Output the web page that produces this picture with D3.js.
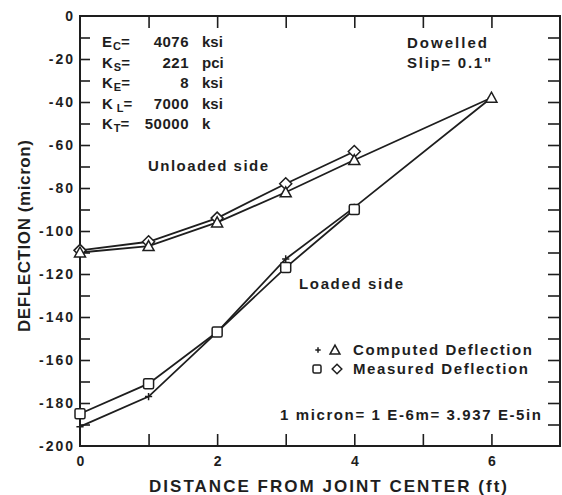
<!DOCTYPE html>
<meta charset="utf-8">
<style>
body{
  margin: 0;
  background-color: white;
}
text{
  font-family: "Liberation Sans", Arial, sans-serif;
  fill: #1e1e1e;
}
</style>
<body>
<svg class="chart"></svg>
<script src="https://d3js.org/d3.v7.min.js"></script>
<script>
// distance from joint centre (ft)
var distance = [0, 1, 2, 3, 4, 6];
var distanceMeasured = [0, 1, 2, 3, 4];

// deflections in micron
var unloadedComputed = [-110, -107, -96, -82, -67, -38];
var unloadedMeasured = [-109, -105, -94, -78, -63];
var loadedComputed = [-191, -177, -147, -113, -89, -38];
var loadedMeasured = [-185, -171, -147, -117, -90];

// parameter box
var paramName = ["E", "K", "K", "K", "K"];
var paramSub = ["C", "S", "E", "L", "T"];
var paramValue = ["4076", "221", "8", "7000", "50000"];
var paramUnit = ["ksi", "pci", "ksi", "ksi", "k"];

var xTicks = [0, 1, 2, 3, 4, 5, 6];
var yTicks = d3.range(-200, 1, 10);
</script>

<script>
var w = 562, h = 495;
var svg = d3.select('svg').attr('width', w).attr('height', h);

var x = d3.scaleLinear().domain([0, 7]).range([80, 560]);
var y = d3.scaleLinear().domain([-200, 0]).range([446, 16]);

var ink = '#1e1e1e';

// frame
svg.append('rect')
  .attr('x', x(0)).attr('y', y(0))
  .attr('width', x(7) - x(0)).attr('height', y(-200) - y(0))
  .attr('fill', 'none')
  .attr('stroke', ink)
  .attr('stroke-width', 2);

// axes -- ticks point inside the frame
var axBottom = svg.append('g')
  .attr('transform', 'translate(0,' + y(-200) + ')')
  .call(d3.axisBottom(x).tickValues(xTicks).tickSizeInner(-12).tickSizeOuter(0).tickPadding(10)
    .tickFormat(function (d) { return d % 2 == 0 ? d : ''; }));
var axTop = svg.append('g')
  .attr('transform', 'translate(0,' + y(0) + ')')
  .call(d3.axisTop(x).tickValues(xTicks).tickSizeInner(-12).tickSizeOuter(0).tickFormat(''));
var axLeft = svg.append('g')
  .attr('transform', 'translate(' + x(0) + ',0)')
  .call(d3.axisLeft(y).tickValues(yTicks).tickSizeInner(-10).tickSizeOuter(0).tickPadding(7)
    .tickFormat(function (d) { return d % 20 == 0 ? String(d) : ''; }));
var axRight = svg.append('g')
  .attr('transform', 'translate(' + x(7) + ',0)')
  .call(d3.axisRight(y).tickValues(yTicks).tickSizeInner(-12).tickSizeOuter(0).tickFormat(''));

svg.selectAll('.domain').remove();
svg.selectAll('.tick line').attr('stroke', ink).attr('stroke-width', 1.6);
svg.selectAll('.tick text')
  .attr('fill', ink)
  .attr('font-size', '14px')
  .attr('font-weight', 'bold')
  .attr('letter-spacing', '2px')
  .attr('font-family', '"Liberation Sans", Arial, sans-serif');

// no tick marks in the corners
axBottom.selectAll('.tick line').filter(function (d) { return d == 0; }).remove();
axTop.selectAll('.tick line').filter(function (d) { return d == 0; }).remove();
axLeft.selectAll('.tick line').filter(function (d) { return d == -200 || d == 0; }).remove();
axRight.selectAll('.tick line').filter(function (d) { return d == -200 || d == 0; }).remove();
axLeft.selectAll('.tick text').attr('dx', '2px');
axBottom.selectAll('.tick text').attr('dx', '1px');

// lines
var line = d3.line()
  .x(function (d) { return x(d[0]); })
  .y(function (d) { return y(d[1]); });

function pairs (xs, ys) {
  return xs.map(function (v, i) { return [v, ys[i]]; });
}

var series = [
  pairs(distance, unloadedComputed),
  pairs(distanceMeasured, unloadedMeasured),
  pairs(distance, loadedComputed),
  pairs(distanceMeasured, loadedMeasured)
];

svg.selectAll('path.series')
  .data(series)
  .enter()
  .append('path')
  .attr('class', 'series')
  .attr('d', line)
  .attr('fill', 'none')
  .attr('stroke', ink)
  .attr('stroke-width', 1.8);

// markers
function drawMarker (g, kind, cx, cy, s) {
  var m;
  if (kind == 'tri') {
    m = g.append('path')
      .attr('d', 'M' + cx + ',' + (cy - s * 0.55) + 'L' + (cx + s * 0.55) + ',' + (cy + s * 0.45) + 'L' + (cx - s * 0.55) + ',' + (cy + s * 0.45) + 'Z');
  } else if (kind == 'sq') {
    m = g.append('rect')
      .attr('x', cx - s / 2).attr('y', cy - s / 2)
      .attr('width', s).attr('height', s).attr('rx', 1.5);
  } else if (kind == 'dia') {
    var r = s * 0.6;
    m = g.append('path')
      .attr('d', 'M' + cx + ',' + (cy - r) + 'L' + (cx + r) + ',' + cy + 'L' + cx + ',' + (cy + r) + 'L' + (cx - r) + ',' + cy + 'Z');
  } else {
    var p = s * 0.45;
    m = g.append('path')
      .attr('d', 'M' + (cx - p) + ',' + cy + 'H' + (cx + p) + 'M' + cx + ',' + (cy - p) + 'V' + (cy + p));
  }
  m.attr('fill', kind == 'plus' ? 'none' : 'white')
    .attr('stroke', ink)
    .attr('stroke-width', 1.5);
}

var marks = svg.append('g');
distance.forEach(function (d, i) {
  drawMarker(marks, 'plus', x(d), y(loadedComputed[i]), 8);
});
distanceMeasured.forEach(function (d, i) {
  drawMarker(marks, 'sq', x(d), y(loadedMeasured[i]), 10);
  drawMarker(marks, 'dia', x(d), y(unloadedMeasured[i]), 10);
});
distance.forEach(function (d, i) {
  drawMarker(marks, 'tri', x(d), y(unloadedComputed[i]), 10);
});

// parameter block
var params = svg.append('g').attr('font-size', '15px').attr('font-weight', 'bold');
paramName.forEach(function (n, i) {
  var by = 47 + i * 20.5;
  var t = params.append('text').attr('x', 102).attr('y', by);
  t.append('tspan').text(n);
  t.append('tspan').attr('dy', 3).attr('font-size', '11px').attr('dx', paramSub[i] == 'L' ? 4 : 1).text(paramSub[i]);
  t.append('tspan').attr('dy', -3).text('=');
  params.append('text').attr('x', 189).attr('y', by).attr('text-anchor', 'end')
    .attr('letter-spacing', '0.5px').text(paramValue[i]);
  params.append('text').attr('x', 202).attr('y', by).text(paramUnit[i]);
});

// annotations
function label (txt, x0, y0, len, size) {
  return svg.append('text')
    .attr('x', x0).attr('y', y0)
    .attr('font-size', size || '15px')
    .attr('font-weight', 'bold')
    .attr('textLength', len)
    .attr('lengthAdjust', 'spacing')
    .text(txt);
}

label('Dowelled', 407, 48, 80);
label('Slip=  0.1"', 407, 68, 84);
label('Unloaded  side', 148, 171, 120);
label('Loaded  side', 299, 289, 104);
label('Computed  Deflection', 353, 355, 179);
label('Measured  Deflection', 353, 374, 175);
label('1  micron=  1  E-6m=  3.937  E-5in', 280, 420, 261);

drawMarker(svg, 'plus', 318, 350, 6);
drawMarker(svg, 'tri', 335, 350, 9);
drawMarker(svg, 'sq', 317, 369, 8);
drawMarker(svg, 'dia', 337, 369, 8);

// axis titles
label('DISTANCE FROM JOINT CENTER (ft)', 149, 492, 358, '17px');
svg.append('text')
  .attr('transform', 'translate(30,332) rotate(-90)')
  .attr('font-size', '17px')
  .attr('font-weight', 'bold')
  .attr('textLength', 192)
  .attr('lengthAdjust', 'spacing')
  .text('DEFLECTION (micron)');
</script>
</body>
</html>
